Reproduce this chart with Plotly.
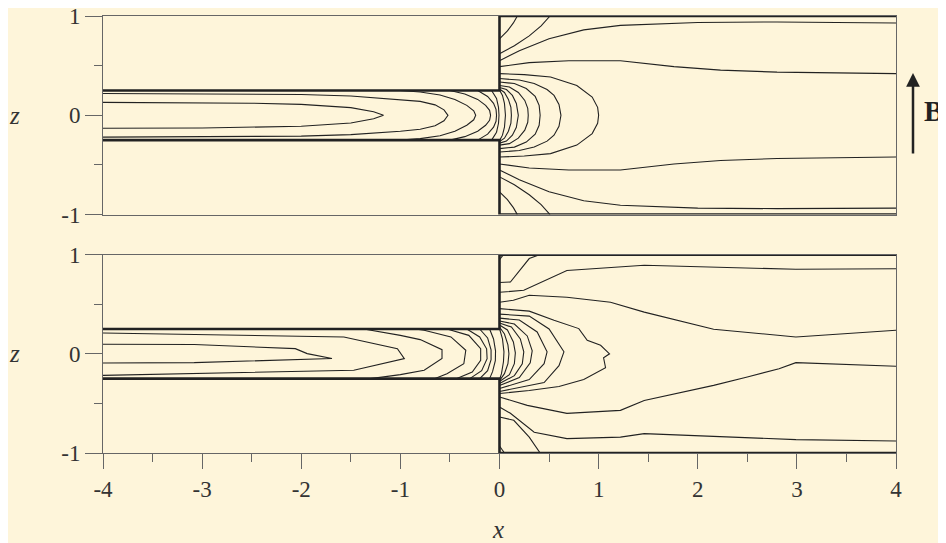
import plotly.graph_objects as go

# ---------------- data ----------------
x_ticks = [-4, -3, -2, -1, 0, 1, 2, 3, 4]
x_tick_text = ["-4", "-3", "-2", "-1", "0", "1", "2", "3", "4"]
z_ticks = [-1, 0, 1]
z_tick_text = ["-1", "0", "1"]

# duct geometry (walls)
wall_lower_x = [-4, 0, 0, 4]
wall_lower_z = [-0.25, -0.25, -1, -1]
wall_upper_x = [-4, 0, 0, 4]
wall_upper_z = [0.25, 0.25, 1, 1]

# ---- upper panel: smooth contours ----
top_c1 = [(-4, 0.13), (-3, 0.128), (-2.5, 0.122), (-2, 0.11), (-1.5, 0.077), (-1.27, 0.035), (-1.17, 0),
          (-1.27, -0.035), (-1.5, -0.077), (-2, -0.11), (-2.5, -0.122), (-3, -0.128), (-4, -0.13)]
top_c2 = [(-4, 0.22), (-3, 0.217), (-2, 0.21), (-1.5, 0.195), (-1.0, 0.16), (-0.8, 0.14), (-0.65, 0.105),
          (-0.56, 0.055), (-0.52, 0), (-0.56, -0.055), (-0.65, -0.105), (-0.8, -0.14), (-1.0, -0.16),
          (-1.5, -0.195), (-2, -0.21), (-3, -0.217), (-4, -0.22)]
top_c3 = [(-1.0, 0.25), (-0.8, 0.235), (-0.6, 0.205), (-0.45, 0.16), (-0.33, 0.1), (-0.26, 0.045), (-0.24, 0),
          (-0.26, -0.045), (-0.33, -0.1), (-0.45, -0.16), (-0.6, -0.205), (-0.8, -0.235), (-1.0, -0.25)]
top_c4 = [(-0.5, 0.25), (-0.35, 0.215), (-0.22, 0.16), (-0.14, 0.1), (-0.1, 0.05), (-0.09, 0),
          (-0.1, -0.05), (-0.14, -0.1), (-0.22, -0.16), (-0.35, -0.215), (-0.5, -0.25)]
top_c5 = [(-0.22, 0.25), (-0.12, 0.19), (-0.06, 0.12), (-0.035, 0.06), (-0.03, 0),
          (-0.035, -0.06), (-0.06, -0.12), (-0.12, -0.19), (-0.22, -0.25)]
top_c6 = [(-0.08, 0.25), (-0.03, 0.17), (-0.01, 0.08), (-0.005, 0), (-0.01, -0.08), (-0.03, -0.17), (-0.08, -0.25)]
top_e1 = [(0, 0.255), (0.03, 0.2), (0.05, 0.12), (0.06, 0), (0.05, -0.12), (0.03, -0.2), (0, -0.255)]
top_e2 = [(0, 0.265), (0.05, 0.23), (0.09, 0.16), (0.115, 0.08), (0.12, 0), (0.115, -0.08), (0.09, -0.16),
          (0.05, -0.23), (0, -0.265)]
top_e3 = [(0, 0.28), (0.07, 0.26), (0.13, 0.2), (0.17, 0.12), (0.19, 0), (0.17, -0.12), (0.13, -0.2),
          (0.07, -0.26), (0, -0.28)]
top_e4 = [(0, 0.30), (0.1, 0.285), (0.19, 0.23), (0.255, 0.15), (0.285, 0.07), (0.29, 0), (0.285, -0.07),
          (0.255, -0.15), (0.19, -0.23), (0.1, -0.285), (0, -0.30)]
top_e5 = [(0, 0.335), (0.15, 0.32), (0.27, 0.27), (0.36, 0.19), (0.40, 0.1), (0.41, 0), (0.40, -0.1),
          (0.36, -0.19), (0.27, -0.27), (0.15, -0.32), (0, -0.335)]
top_e6 = [(0, 0.37), (0.2, 0.355), (0.35, 0.32), (0.48, 0.26), (0.55, 0.2), (0.6, 0.11), (0.62, 0),
          (0.6, -0.11), (0.55, -0.2), (0.48, -0.26), (0.35, -0.32), (0.2, -0.355), (0, -0.37)]
top_e7 = [(0, 0.42), (0.25, 0.41), (0.515, 0.386), (0.78, 0.30), (0.935, 0.184), (0.99, 0.08), (1.0, 0),
          (0.99, -0.08), (0.935, -0.184), (0.78, -0.30), (0.515, -0.386), (0.25, -0.41), (0, -0.42)]
top_ua = [(0, 0.55), (0.2, 0.65), (0.5, 0.77), (0.85, 0.86), (1.22, 0.906), (2.0, 0.935), (2.8, 0.94), (4, 0.93)]
top_ub = [(0, 0.49), (0.3, 0.53), (0.7, 0.55), (1.22, 0.55), (1.76, 0.49), (2.23, 0.455), (2.8, 0.435), (4, 0.42)]
top_uc = [(0, 0.62), (0.15, 0.7), (0.3, 0.8), (0.42, 0.9), (0.51, 1.0)]
top_ud = [(0, 0.77), (0.08, 0.85), (0.14, 0.93), (0.18, 1.0)]
top_la = [(0, -0.55), (0.2, -0.65), (0.5, -0.77), (0.85, -0.86), (1.22, -0.906), (2.0, -0.935), (2.8, -0.94), (4, -0.935)]
top_lb = [(0, -0.49), (0.3, -0.53), (0.7, -0.55), (1.22, -0.55), (1.76, -0.49), (2.23, -0.455), (2.8, -0.435), (4, -0.42)]
top_lc = [(0, -0.62), (0.15, -0.7), (0.3, -0.8), (0.42, -0.9), (0.51, -1.0)]
top_ld = [(0, -0.77), (0.08, -0.85), (0.14, -0.93), (0.18, -1.0)]

# ---- lower panel: polygonal contours ----
bot_c1 = [(-4, 0.096), (-3.08, 0.093), (-2.06, 0.052), (-1.94, 0.002), (-1.69, -0.048), (-3.08, -0.089), (-4, -0.092)]
bot_c2 = [(-4, 0.21), (-1.57, 0.17), (-1.03, 0.052), (-0.96, -0.048), (-1.47, -0.166), (-4, -0.217)]
bot_c3 = [(-1.37, 0.25), (-1.0, 0.186), (-0.80, 0.143), (-0.58, 0.042), (-0.58, -0.048), (-0.76, -0.166),
          (-1.0, -0.21), (-1.30, -0.25)]
bot_c4 = [(-0.85, 0.25), (-0.76, 0.237), (-0.49, 0.17), (-0.34, 0.035), (-0.36, -0.1), (-0.53, -0.2), (-0.65, -0.25)]
bot_c5 = [(-0.53, 0.25), (-0.31, 0.186), (-0.19, 0.052), (-0.19, -0.066), (-0.275, -0.183), (-0.43, -0.25)]
bot_c6 = [(-0.33, 0.25), (-0.2, 0.17), (-0.13, 0.05), (-0.125, -0.05), (-0.18, -0.17), (-0.3, -0.25)]
bot_c7 = [(-0.2, 0.25), (-0.12, 0.16), (-0.085, 0.04), (-0.085, -0.06), (-0.12, -0.17), (-0.2, -0.25)]
bot_c8 = [(-0.1, 0.25), (-0.06, 0.15), (-0.04, 0.03), (-0.042, -0.07), (-0.07, -0.18), (-0.1, -0.25)]
bot_e1 = [(0, 0.255), (0.03, 0.15), (0.045, 0.02), (0.04, -0.08), (0.02, -0.2), (0, -0.26)]
bot_e2 = [(0, 0.27), (0.05, 0.2), (0.085, 0.09), (0.095, 0.0), (0.085, -0.1), (0.05, -0.2), (0, -0.27)]
bot_e3 = [(0, 0.29), (0.08, 0.24), (0.14, 0.12), (0.16, 0.01), (0.15, -0.1), (0.1, -0.21), (0, -0.28)]
bot_e4 = [(0, 0.31), (0.12, 0.27), (0.21, 0.15), (0.245, 0.02), (0.23, -0.1), (0.15, -0.22), (0, -0.30)]
bot_e5 = [(0, 0.33), (0.15, 0.3), (0.28, 0.18), (0.33, 0.03), (0.31, -0.09), (0.2, -0.24), (0, -0.32)]
bot_e6 = [(0, 0.36), (0.2, 0.34), (0.38, 0.22), (0.48, 0.02), (0.45, -0.1), (0.3, -0.26), (0, -0.35)]
bot_e7 = [(0, 0.40), (0.3, 0.38), (0.5, 0.25), (0.65, 0.02), (0.6, -0.12), (0.45, -0.29), (0, -0.38)]
bot_e8 = [(0, 0.455), (0.30, 0.43), (0.55, 0.338), (0.80, 0.254), (0.885, 0.136), (1.02, 0.086), (1.11, 0.0),
          (1.05, -0.04), (1.07, -0.14), (0.85, -0.26), (0.6, -0.33), (0.3, -0.37), (0, -0.40)]
bot_u1 = [(0, 0.52), (0.14, 0.54), (0.30, 0.59), (0.68, 0.57), (1.12, 0.52), (1.46, 0.42), (2.16, 0.247),
          (2.99, 0.17), (4.0, 0.237)]
bot_u2 = [(0, 0.62), (0.245, 0.64), (0.68, 0.84), (1.22, 0.875), (1.46, 0.892), (2.99, 0.852), (4.0, 0.858)]
bot_u3 = [(0, 0.718), (0.11, 0.724), (0.30, 0.96), (0.41, 1.0)]
bot_u4 = [(0, 0.95), (0.04, 1.0)]
bot_l1 = [(0, -0.435), (0.28, -0.52), (0.68, -0.60), (1.22, -0.57), (1.46, -0.47), (2.16, -0.318),
          (2.50, -0.233), (2.82, -0.15), (2.99, -0.089), (4.0, -0.126)]
bot_l2 = [(0, -0.536), (0.11, -0.6), (0.35, -0.79), (0.68, -0.855), (1.22, -0.84), (1.46, -0.805),
          (2.99, -0.865), (4.0, -0.879)]
bot_l3 = [(0, -0.637), (0.144, -0.67), (0.30, -0.84), (0.41, -1.0)]
bot_l4 = [(0, -0.93), (0.05, -1.0)]

top_curves = [top_c1, top_c2, top_c3, top_c4, top_c5, top_c6, top_e1, top_e2, top_e3, top_e4, top_e5,
              top_e6, top_e7, top_ua, top_ub, top_uc, top_ud, top_la, top_lb, top_lc, top_ld]
bot_curves = [bot_c1, bot_c2, bot_c3, bot_c4, bot_c5, bot_c6, bot_c7, bot_c8, bot_e1, bot_e2, bot_e3,
              bot_e4, bot_e5, bot_e6, bot_e7, bot_e8, bot_u1, bot_u2, bot_u3, bot_u4, bot_l1, bot_l2,
              bot_l3, bot_l4]

# ---------------- layout constants ----------------
OFF = 8                      # page body margin
W, H = 946 - OFF, 543 - OFF  # figure size so it fills the window
ML, MR, MT, MB = 95, 50, 8, 90
PW, PH = W - ML - MR, H - MT - MB


def paper_x(p):  # p: window pixel
    return (p - OFF - ML) / PW


def paper_y(p):
    return (H - MB - (p - OFF)) / PH


def join(curves):
    xs, zs = [], []
    for c in curves:
        for (a, b) in c:
            xs.append(a)
            zs.append(b)
        xs.append(None)
        zs.append(None)
    return xs, zs


LINE = "#222222"
FRAME = "#666666"
BG = "#FEF5DA"
FONT = "Liberation Serif"

fig = go.Figure()
for xa, ya, curves in (("x", "y", top_curves), ("x2", "y2", bot_curves)):
    cx, cz = join(curves)
    fig.add_trace(go.Scatter(x=cx, y=cz, mode="lines", xaxis=xa, yaxis=ya,
                             line=dict(color=LINE, width=1.1), cliponaxis=False,
                             hoverinfo="skip", showlegend=False))
    for wx, wz in ((wall_upper_x, wall_upper_z), (wall_lower_x, wall_lower_z)):
        fig.add_trace(go.Scatter(x=wx, y=wz, mode="lines", xaxis=xa, yaxis=ya,
                                 line=dict(color=LINE, width=2.6), cliponaxis=False,
                                 hoverinfo="skip", showlegend=False))

axis_common = dict(range=[-4, 4], showline=True, linecolor=FRAME, linewidth=1, mirror=True,
                   showgrid=False, zeroline=False, automargin=False)
yaxis_common = dict(range=[-1, 1], showline=True, linecolor=FRAME, linewidth=1, mirror=True,
                    showgrid=False, zeroline=False, automargin=False, tickmode="array", tickvals=z_ticks,
                    ticktext=z_tick_text, ticks="outside", ticklen=17, tickcolor=FRAME, tickwidth=1,
                    ticklabeloverflow="allow",
                    tickfont=dict(family=FONT, size=23, color="#333333"),
                    minor=dict(tickvals=[-0.5, 0.5], ticklen=8, ticks="outside", tickcolor=FRAME))

fig.update_layout(
    template="none",
    width=W, height=H,
    margin=dict(l=ML, r=MR, t=MT, b=MB, pad=0),
    paper_bgcolor=BG, plot_bgcolor="rgba(0,0,0,0)",
    font=dict(family=FONT, size=22, color="#333333"),
    xaxis=dict(domain=[0, 1], anchor="y", showticklabels=False, ticks="", **axis_common),
    yaxis=dict(domain=[0.5455, 1.0], anchor="x", **yaxis_common),
    xaxis2=dict(domain=[0, 1], anchor="y2", tickmode="array", tickvals=x_ticks, ticktext=x_tick_text,
                ticks="outside", ticklen=15, tickcolor=FRAME, tickwidth=1, ticklabeloverflow="allow",
                tickfont=dict(family=FONT, size=23, color="#333333"),
                minor=dict(dtick=0.5, ticklen=8, ticks="outside", tickcolor=FRAME),
                **axis_common),
    yaxis2=dict(domain=[0, 0.454], anchor="x2", **yaxis_common),
)

annos = []
for cy in (115, 353.5):
    annos.append(dict(text="<i>z</i>", xref="paper", yref="paper", x=paper_x(14), y=paper_y(cy),
                      showarrow=False, xanchor="center", yanchor="middle",
                      font=dict(family=FONT, size=25, color="#333333")))
annos.append(dict(text="<i>x</i>", xref="paper", yref="paper", x=paper_x(498), y=paper_y(529),
                  showarrow=False, xanchor="center", yanchor="middle",
                  font=dict(family=FONT, size=25, color="#333333")))
annos.append(dict(text="<b>B</b>", xref="paper", yref="paper", x=paper_x(922), y=paper_y(111),
                  showarrow=False, xanchor="left", yanchor="middle",
                  font=dict(family=FONT, size=29, color="#222222")))
annos.append(dict(text="", xref="paper", yref="paper", x=paper_x(913), y=paper_y(73),
                  ax=0, ay=82, axref="pixel", ayref="pixel", showarrow=True,
                  arrowhead=2, arrowsize=1.1, arrowwidth=2.5, arrowcolor="#222222"))
fig.update_layout(annotations=annos)

fig.write_html("out.html")
